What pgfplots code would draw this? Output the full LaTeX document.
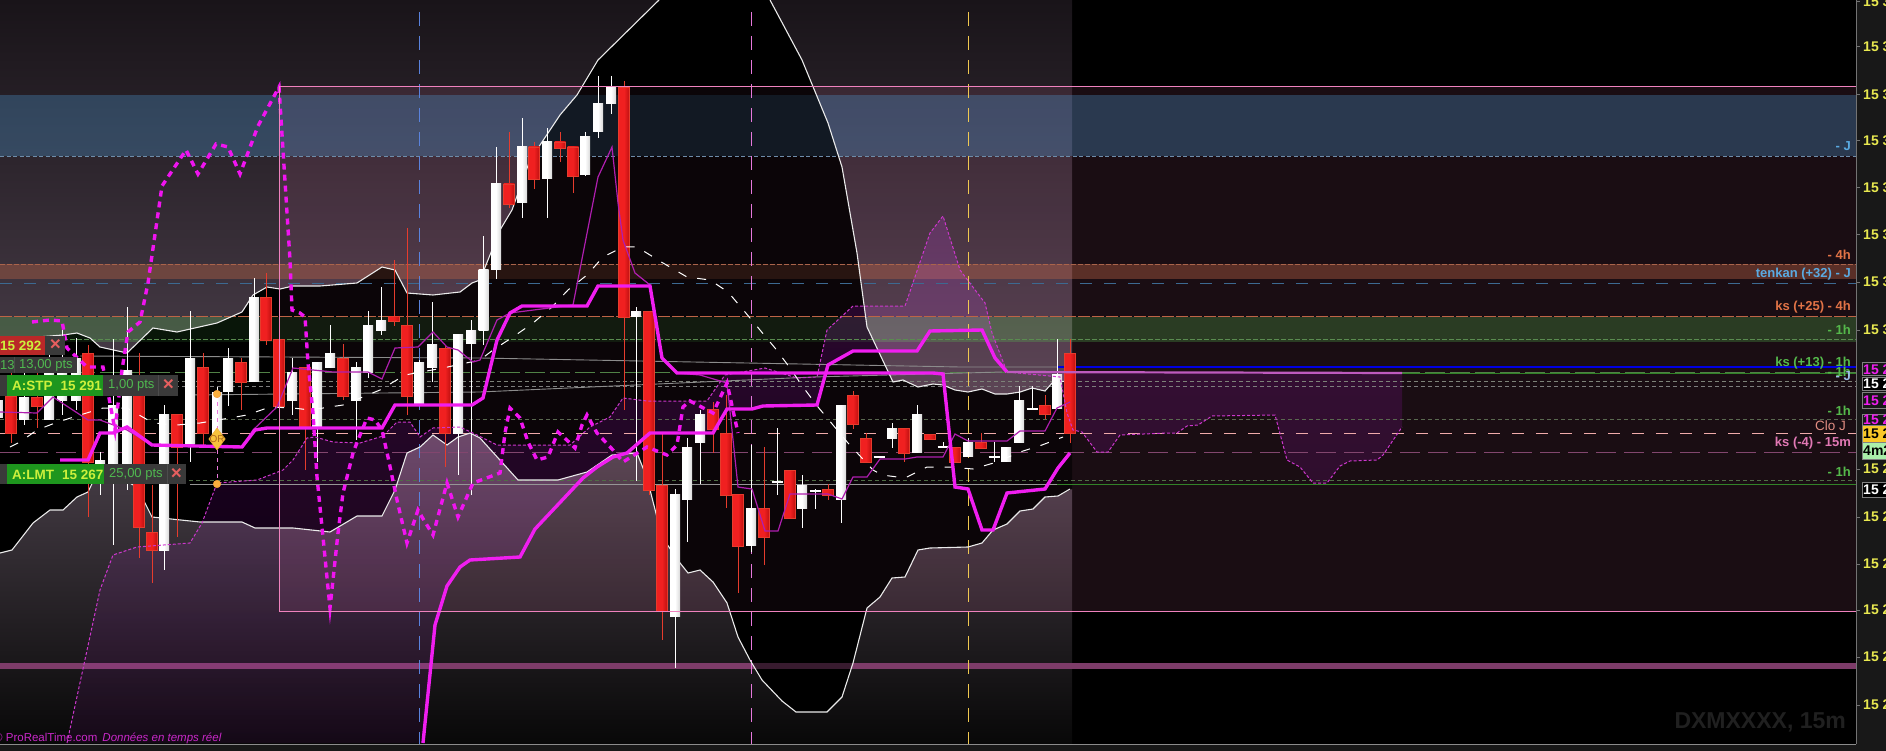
\documentclass[border=0pt]{standalone}
\usepackage{fontspec}
\setmainfont{Liberation Sans}
\usepackage{pgfplots}
\pgfplotsset{compat=1.18}
\definecolor{rbody}{RGB}{240,32,32}
\definecolor{rdark}{RGB}{190,16,16}
\definecolor{redge}{RGB}{230,60,45}
\definecolor{mag}{RGB}{240,30,240}
\definecolor{thinmag}{RGB}{175,30,175}
\definecolor{dashmag}{RGB}{205,55,205}
\definecolor{rectpink}{RGB}{240,130,190}
\definecolor{yel}{RGB}{232,232,80}
\definecolor{lblue}{RGB}{90,170,225}
\definecolor{lor}{RGB}{225,115,70}
\definecolor{lgr}{RGB}{85,185,75}
\definecolor{lpk}{RGB}{225,120,180}
\definecolor{uigreen}{RGB}{30,150,30}
\definecolor{uigray}{RGB}{58,58,58}
\definecolor{uitext}{RGB}{205,240,60}
\definecolor{uipts}{RGB}{80,185,80}
\definecolor{uix}{RGB}{230,95,95}
\definecolor{panel}{RGB}{24,24,24}
\newcommand{\lv}[3]{\addplot[#3] coordinates {(#1,#2)(1856,#2)};}
\newcommand{\cR}[5]{%
 \addplot[redge,line width=1pt] coordinates {(#1,#2)(#1,#5)};
 \addplot[draw=redge,line width=.6pt,shade,left color=rbody,right color=rdark,middle color=rbody] coordinates {(#1-5.5,#3)(#1+5.5,#3)(#1+5.5,#4)(#1-5.5,#4)} -- cycle;}
\newcommand{\cW}[5]{%
 \addplot[white,line width=1pt] coordinates {(#1,#2)(#1,#5)};
 \addplot[draw=none,shade,left color=white,right color=black!15,middle color=white] coordinates {(#1-5,#3)(#1+5,#3)(#1+5,#4)(#1-5,#4)} -- cycle;}
\newcommand{\cD}[4]{%
 \addplot[white,line width=1pt] coordinates {(#1,#2)(#1,#4)};
 \addplot[white,line width=1.2pt] coordinates {(#1-5.5,#3)(#1+5.5,#3)};}
\begin{document}
\begin{tikzpicture}
\path[use as bounding box] (0,0) rectangle (1886pt,751pt);
\clip (0,0) rectangle (1886pt,751pt);
\fill[panel] (0,0) rectangle (1886pt,751pt);
\begin{axis}[
  at={(0pt,7pt)},anchor=south west,
  scale only axis,width=1856pt,height=744pt,
  xmin=0,xmax=1856,ymin=0,ymax=744,y dir=reverse,
  clip mode=individual,
  axis background/.style={fill=black},
  axis x line=none,axis y line*=right,
  axis line style={draw=black!55,line width=1pt},
  ytick={2,47,95,141,188,235,282,330,469,517,564,610,657,705},
  yticklabels={15 3,15 3,\textbf{15 3},15 3,15 3,15 3,15 3,\textbf{15 3},15 2,15 2,\textbf{15 2},15 2,15 2,15 2},
  tick align=outside,major tick length=4pt,
  y tick style={draw=black!55,line width=1pt},
  yticklabel style={text=yel,font=\fontsize{14}{16}\selectfont\bfseries,anchor=west,inner sep=0pt,xshift=3pt},
]
% outer cloud gradients
\addplot[draw=none,top color={rgb,255:red,25;green,20;blue,25},bottom color={rgb,255:red,74;green,62;blue,74}] coordinates {
(0,0)(0,340)(63,335)(77,333)(90,338)(100,347)(127,353)(153,328)(177,332)(217,323)(242,312)(253,295)(267,287)(280,289)(293,286)(320,286)(357,283)(382,267)(395,270)(407,293)(433,295)(460,292)(472,283)(480,280)(490,255)(500,230)(512,210)(530,160)(560,115)(577,95)(598,60)(659,0)(770,0)(802,60)(828,123)(842,167)(857,253)(867,327)(893,382)(903,380)(918,387)(933,384)(943,385)(955,390)(968,392)(982,389)(995,394)(1007,394)(1020,392)(1032,388)(1045,391)(1053,382)(1072,381)(1072,0)} -- cycle;
\addplot[draw=none,top color={rgb,255:red,76;green,66;blue,76},bottom color={rgb,255:red,8;green,8;blue,8}] coordinates {
(0,553)(12,550)(33,523)(50,510)(63,510)(77,497)(88,492)(100,467)(137,487)(152,517)(200,522)(242,522)(255,528)(293,528)(330,532)(357,516)(382,516)(395,490)(407,453)(420,447)(433,435)(447,445)(458,437)(470,433)(480,438)(518,480)(558,480)(587,472)(612,455)(637,453)(647,478)(662,537)(680,563)(688,573)(700,570)(713,582)(727,603)(738,637)(750,660)(762,680)(782,701)(796,712)(827,712)(842,697)(853,663)(867,608)(880,597)(892,578)(905,577)(918,550)(930,548)(968,547)(982,543)(993,530)(1007,524)(1020,511)(1033,509)(1045,497)(1058,496)(1072,489)(1072,744)(0,744)} -- cycle;
% large rectangle wash
\addplot[draw=none,fill={rgb,255:red,255;green,130;blue,190},fill opacity=.1] coordinates {(279,87)(1856,87)(1856,611)(279,611)} -- cycle;
% bands
\addplot[draw=none,fill={rgb,255:red,79;green,160;blue,220},fill opacity=.3] coordinates {(0,95)(1856,95)(1856,156)(0,156)} -- cycle;
\addplot[draw=none,fill={rgb,255:red,186;green,99;blue,70},fill opacity=.4] coordinates {(0,264)(1856,264)(1856,279)(0,279)} -- cycle;
\addplot[draw=none,fill={rgb,255:red,90;green,202;blue,84},fill opacity=.25] coordinates {(0,317)(1856,317)(1856,342)(0,342)} -- cycle;
\addplot[draw=none,fill={rgb,255:red,125;green,60;blue,105}] coordinates {(0,663)(1856,663)(1856,669)(0,669)} -- cycle;
% channel darkening
\addplot[draw=none,fill=black,fill opacity=.55] coordinates {
(0,340)(63,335)(77,333)(90,338)(100,347)(127,353)(153,328)(177,332)(217,323)(242,312)(253,295)(267,287)(280,289)(293,286)(320,286)(357,283)(382,267)(395,270)(407,293)(433,295)(460,292)(472,283)(480,280)(490,255)(500,230)(512,210)(530,160)(560,115)(577,95)(598,60)(659,0)(770,0)(802,60)(828,123)(842,167)(857,253)(867,327)(893,382)(903,380)(918,387)(933,384)(943,385)(955,390)(968,392)(982,389)(995,394)(1007,394)(1020,392)(1032,388)(1045,391)(1053,382)(1072,381)
(1072,489)(1058,496)(1045,497)(1033,509)(1020,511)(1007,524)(993,530)(982,543)(968,547)(930,548)(918,550)(905,577)(892,578)(880,597)(867,608)(853,663)(842,697)(827,712)(796,712)(782,701)(762,680)(750,660)(738,637)(727,603)(713,582)(700,570)(688,573)(680,563)(662,537)(647,478)(637,453)(612,455)(587,472)(558,480)(518,480)(480,438)(470,433)(458,437)(447,445)(433,435)(420,447)(407,453)(395,490)(382,516)(357,516)(330,532)(293,528)(255,528)(242,522)(200,522)(152,517)(137,487)(100,467)(88,492)(77,497)(63,510)(50,510)(33,523)(12,550)(0,553)} -- cycle;
% purple cloud between thick line and thin dashed curve
\addplot[draw=none,blend mode=screen,top color={rgb,255:red,34;green,2;blue,42},bottom color={rgb,255:red,12;green,0;blue,14}] coordinates {
(67,743)(100,590)(113,555)(137,547)(190,543)(202,523)(217,483)(257,480)(283,470)(293,460)(307,438)(315,437)(333,442)(360,443)(383,436)(397,422)(410,422)(420,437)(433,428)(460,427)(477,435)(497,445)(570,445)(590,427)(610,417)(623,398)(647,401)(707,401)(725,375)(765,368)(797,378)(817,377)(827,330)(853,306)(905,306)(930,233)(943,216)(960,270)(985,303)(992,333)(1007,372)
(1060,377)(1067,413)(1073,430)(1082,432)(1097,452)(1108,452)(1120,435)(1167,433)(1177,433)(1187,426)(1198,425)(1212,416)(1275,415)(1287,460)(1300,467)(1313,483)(1327,483)(1340,466)(1350,461)(1377,460)(1383,455)(1402,427)(1402,373)
(1007,372)(995,358)(982,330)(930,330)(917,351)(853,351)(828,365)(817,405)(763,406)(752,409)(727,409)(713,433)(650,433)(627,453)(613,457)(597,467)(583,478)(535,529)(520,557)(469,560)(447,586)(435,625)(423,743)} -- cycle;
% horizontal levels
\lv{0}{156}{draw={rgb,255:red,110;green,140;blue,170},line width=.8pt,dash pattern=on 4pt off 2.5pt}
\lv{0}{264.5}{draw={rgb,255:red,170;green,100;blue,75},line width=.8pt,dash pattern=on 5pt off 2pt}
\lv{0}{283}{draw={rgb,255:red,60;green,105;blue,145},line width=.9pt,dash pattern=on 12pt off 12pt}
\lv{0}{316.5}{draw={rgb,255:red,190;green,100;blue,70},line width=.9pt,dash pattern=on 12pt off 2pt}
\lv{0}{339}{draw={rgb,255:red,90;green,140;blue,80},line width=.8pt,dash pattern=on 5pt off 2pt}
\lv{0}{372.5}{draw={rgb,255:red,80;green,130;blue,70},line width=.9pt,dash pattern=on 20pt off 5pt}
\lv{0}{381}{draw={rgb,255:red,125;green,130;blue,120},line width=.8pt,dash pattern=on 4pt off 3pt}
\lv{0}{386}{draw={rgb,255:red,125;green,125;blue,125},line width=.8pt,dash pattern=on 4pt off 3pt}
\lv{0}{419}{draw={rgb,255:red,90;green,105;blue,80},line width=.8pt,dash pattern=on 4pt off 3pt}
\lv{0}{433}{draw={rgb,255:red,240;green,170;blue,170},line width=.9pt,dash pattern=on 12pt off 12pt}
\lv{0}{452.7}{draw={rgb,255:red,130;green,70;blue,110},line width=.9pt,dash pattern=on 20pt off 8pt}
\lv{0}{480}{draw={rgb,255:red,80;green,110;blue,70},line width=.8pt,dash pattern=on 4pt off 3pt}
\addplot[draw={rgb,255:red,150;green,150;blue,150},line width=.9pt] coordinates {(190,484)(1057,484)};
\addplot[draw={rgb,255:red,50;green,130;blue,40},line width=1pt] coordinates {(1057,484)(1856,484)};
\addplot[draw={rgb,255:red,140;green,140;blue,140},line width=.9pt] coordinates {(80,356)(480,358)(960,367)(1057,367)};
\addplot[draw={rgb,255:red,140;green,140;blue,140},line width=.9pt] coordinates {(190,395)(480,392)(813,377)(1002,372)};
\addplot[draw={rgb,255:red,50;green,130;blue,40},line width=1pt] coordinates {(1402,373)(1856,373)};
\addplot[draw={rgb,255:red,0;green,0;blue,225},line width=2.4pt] coordinates {(1057,367)(1856,367)};
% vertical dashes
\addplot[draw={rgb,255:red,90;green,130;blue,220},line width=1pt,dash pattern=on 14pt off 10pt] coordinates {(419.5,12)(419.5,744)};
\addplot[draw={rgb,255:red,230;green,120;blue,220},line width=1pt,dash pattern=on 14pt off 10pt] coordinates {(751.5,12)(751.5,744)};
\addplot[draw={rgb,255:red,240;green,200;blue,80},line width=1pt,dash pattern=on 14pt off 10pt] coordinates {(968.5,12)(968.5,744)};
% cloud white lines
\addplot[draw=white!92!black,line width=1.1pt] coordinates {(0,340)(63,335)(77,333)(90,338)(100,347)(127,353)(153,328)(177,332)(217,323)(242,312)(253,295)(267,287)(280,289)(293,286)(320,286)(357,283)(382,267)(395,270)(407,293)(433,295)(460,292)(472,283)(480,280)(490,255)(500,230)(512,210)(530,160)(560,115)(577,95)(598,60)(659,0)};
\addplot[draw=white!92!black,line width=1.1pt] coordinates {(770,0)(802,60)(828,123)(842,167)(857,253)(867,327)(893,382)(903,380)(918,387)(933,384)(943,385)(955,390)(968,392)(982,389)(995,394)(1007,394)(1020,392)(1032,388)(1045,391)(1053,382)(1070,381)};
\addplot[draw=white!92!black,line width=1.1pt] coordinates {(0,553)(12,550)(33,523)(50,510)(63,510)(77,497)(88,492)(100,467)(137,487)(152,517)(200,522)(242,522)(255,528)(293,528)(330,532)(357,516)(382,516)(395,490)(407,453)(420,447)(433,435)(447,445)(458,437)(470,433)(480,438)(518,480)(558,480)(587,472)(612,455)(637,453)(647,478)(662,537)(680,563)(688,573)(700,570)(713,582)(727,603)(738,637)(750,660)(762,680)(782,701)(796,712)(827,712)(842,697)(853,663)(867,608)(880,597)(892,578)(905,577)(918,550)(930,548)(968,547)(982,543)(993,530)(1007,524)(1020,511)(1033,509)(1045,497)(1058,496)(1070,489)};
% candles
\cW{-2}{385}{400}{417}{430}
\cR{11}{360}{396}{433}{443}
\cW{24}{360}{397}{419}{425}
\cR{37}{360}{397}{406}{428}
\cW{49}{340}{360}{419}{420}
\cW{62}{325}{360}{400}{415}
\cW{76}{338}{358}{400}{410}
\cR{88}{345}{353}{462}{517}
\cW{100}{452}{460}{470}{495}
\cW{113}{339}{405}{463}{545}
\cW{127}{307}{370}{463}{490}
\cR{139}{353}{395}{527}{558}
\cR{152}{485}{532}{550}{583}
\cW{164}{405}{414}{550}{570}
\cR{177}{414}{414}{447}{537}
\cW{190}{311}{358}{443}{462}
\cR{203}{353}{367}{433}{445}
\cW{217}{387}{392}{440}{445}
\cW{228}{348}{358}{391}{406}
\cR{241}{358}{362}{382}{410}
\cW{254}{278}{297}{381}{382}
\cR{266}{273}{297}{340}{345}
\cR{279}{340}{339}{406}{440}
\cW{292}{358}{372}{400}{415}
\cR{305}{367}{367}{427}{470}
\cW{317}{362}{362}{427}{462}
\cW{330}{325}{353}{367}{368}
\cR{343}{344}{358}{396}{400}
\cW{356}{362}{367}{400}{440}
\cW{368}{311}{325}{372}{378}
\cW{381}{287}{320}{330}{335}
\cR{394}{260}{316}{321}{326}
\cR{407}{228}{325}{396}{415}
\cW{419}{360}{362}{404}{404}
\cW{432}{302}{344}{367}{382}
\cR{445}{345}{348}{433}{467}
\cW{458}{350}{334}{433}{475}
\cW{471}{320}{330}{343}{495}
\cW{483.5}{236}{269}{330}{345}
\cW{496}{147}{184}{269}{279}
\cR{509}{132}{184}{204}{208}
\cW{522}{118}{147}{203}{218}
\cR{534}{142}{147}{179}{189}
\cW{547}{128}{142}{179}{218}
\cR{560}{132}{142}{148}{162}
\cR{573}{147}{147}{176}{193}
\cW{585}{132}{137}{175}{176}
\cW{598}{76}{104}{132}{138}
\cW{611}{76}{87}{104}{114}
\cR{624}{81}{87}{317}{410}
\cW{636}{307}{311}{316}{481}
\cR{649}{311}{311}{490}{495}
\cR{662}{433}{485}{611}{640}
\cW{675}{489}{494}{616}{668}
\cW{687}{438}{447}{499}{542}
\cW{700}{410}{414}{442}{484}
\cR{713}{402}{409}{429}{453}
\cR{726}{395}{433}{495}{508}
\cR{738}{494}{494}{546}{593}
\cW{751}{445}{508}{545}{552}
\cR{764}{447}{508}{537}{565}
\cD{777}{428}{482}{495}
\cR{790}{470}{470}{518}{518}
\cW{802}{475}{485}{508}{528}
\cD{815}{489}{491}{509}
\cR{828}{484}{489}{495}{500}
\cW{841}{405}{405}{499}{523}
\cR{853}{391}{395}{424}{429}
\cR{866}{433}{438}{462}{462}
\cD{879}{457}{457}{457}
\cW{892}{423}{428}{438}{448}
\cR{904}{428}{428}{453}{462}
\cW{917}{405}{414}{452}{453}
\cR{930}{434}{434}{439}{439}
\cD{943}{442}{447}{448}
\cR{955}{447}{447}{462}{462}
\cW{968}{438}{442}{456}{457}
\cR{981}{433}{442}{448}{448}
\cD{994}{442}{457}{462}
\cW{1006}{447}{447}{461}{462}
\cW{1019}{386}{400}{442}{443}
\cD{1032}{386}{409}{409}
\cR{1045}{395}{405}{414}{419}
\cW{1057}{339}{374}{408}{408}
\cR{1070}{339}{353}{433}{443}
% white dashed line
\addplot[draw=white,line width=1pt,dash pattern=on 9pt off 11pt] coordinates {(10,447)(20,442)(37,430)(55,423)(80,415)(103,408)(127,408)(153,423)(177,425)(200,423)(230,418)(247,415)(270,407)(293,408)(310,410)(343,405)(380,390)(405,375)(443,368)(480,360)(493,350)(513,337)(533,323)(552,307)(568,290)(587,275)(603,257)(623,247)(637,247)(663,263)(687,277)(710,280)(728,292)(745,312)(760,330)(775,348)(790,368)(803,387)(818,407)(833,425)(848,443)(873,470)(882,475)(905,478)(927,467)(950,467)(973,469)(997,462)(1020,452)(1042,445)(1063,437)};
% thin magenta line
\addplot[draw=thinmag,line width=1.2pt] coordinates {(0,412)(37,413)(53,397)(88,420)(100,420)(127,430)(152,445)(242,447)(253,430)(277,407)(293,368)(333,372)(368,372)(382,379)(395,348)(418,347)(433,332)(447,347)(458,350)(473,362)(480,360)(497,320)(510,313)(573,305)(598,177)(612,147)(618,203)(623,240)(635,273)(650,285)(662,358)(677,373)(700,375)(727,383)(738,487)(752,489)(765,531)(778,531)(790,494)(828,494)(842,499)(853,477)(867,477)(880,459)(905,459)(917,457)(943,457)(955,434)(968,441)(1007,441)(1020,431)(1045,431)(1057,408)(1070,402)};
% thin dashed curve
\addplot[draw=dashmag,line width=1pt,dash pattern=on 3pt off 2pt] coordinates {(67,743)(100,590)(113,555)(137,547)(190,543)(202,523)(217,483)(257,480)(283,470)(293,460)(307,438)(315,437)(333,442)(360,443)(383,436)(397,422)(410,422)(420,437)(433,428)(460,427)(477,435)(497,445)(570,445)(590,427)(610,417)(623,398)(647,401)(707,401)(725,375)(765,368)(797,378)(817,377)(827,330)(853,306)(905,306)(930,233)(943,216)(960,270)(985,303)(992,333)(1007,372)(1060,377)(1067,413)(1073,430)(1082,432)(1097,452)(1108,452)(1120,435)(1167,433)(1177,433)(1187,426)(1198,425)(1212,416)(1275,415)(1287,460)(1300,467)(1313,483)(1327,483)(1340,466)(1350,461)(1377,460)(1383,455)(1402,427)};
% thick magenta dashed line
\addplot[draw={rgb,255:red,240;green,20;blue,240},line width=3.4pt,dash pattern=on 6pt off 5pt] coordinates {(32,322)(50,320)(62,321)(67,348)(87,367)(103,367)(110,403)(115,430)(122,370)(128,332)(140,322)(148,283)(162,186)(186,150)(198,174)(216,144)(228,147)(240,174)(258,126)(279,87)(290,260)(292,310)(300,313)(305,317)(308,363)(313,413)(317,477)(322,527)(330,608)(338,533)(343,493)(353,453)(358,440)(367,418)(375,420)(382,430)(388,457)(397,500)(407,543)(418,510)(422,517)(433,535)(447,483)(458,517)(473,483)(500,473)(505,433)(510,408)(520,418)(528,442)(537,460)(548,457)(558,432)(570,443)(575,448)(582,425)(587,415)(597,433)(613,450)(623,462)(647,447)(667,455)(677,445)(683,407)(690,401)(713,413)(727,383)(738,433)};
% thick magenta lines
\addplot[draw=mag,line width=3.4pt] coordinates {(60,460)(88,460)(100,433)(113,433)(127,427)(152,445)(242,447)(255,430)(267,428)(382,428)(395,405)(472,405)(483,398)(497,340)(510,313)(522,306)(587,306)(598,286)(650,286)(662,358)(677,373)(933,373)(943,374)(955,487)(968,489)(982,530)(993,530)(1007,493)(1045,489)(1058,468)(1070,453)};
\addplot[draw=mag,line width=3.4pt] coordinates {(423,743)(435,625)(447,586)(460,567)(470,560)(520,557)(535,529)(583,478)(597,467)(613,457)(627,453)(650,433)(713,433)(727,409)(752,409)(763,406)(817,405)(828,365)(853,351)(917,351)(930,331)(982,330)(995,358)(1007,372)};
\addplot[draw={rgb,255:red,190;green,90;blue,190},line width=2.2pt] coordinates {(1007,372)(1402,373)};
% rectangle outline
\addplot[draw=rectpink,line width=1pt] coordinates {(1856,87)(279,87)(279,611)(1856,611)};
% OR marker
\addplot[draw={rgb,255:red,235;green,120;blue,220},line width=1pt,dash pattern=on 4pt off 4pt] coordinates {(217,394)(217,484)};
\addplot[only marks,mark=*,mark size=3.8pt,mark options={draw={rgb,255:red,245;green,160;blue,60},fill={rgb,255:red,250;green,175;blue,60}}] coordinates {(217,394)(217,484)};
\addplot[only marks,mark=diamond*,mark size=11pt,mark options={draw={rgb,255:red,240;green,170;blue,50},fill={rgb,255:red,248;green,195;blue,60}}] coordinates {(217,439)};
\node[text={rgb,255:red,175;green,105;blue,30},font=\fontsize{10}{11}\selectfont,inner sep=0pt] at (axis cs:217,439.5) {OR};
% order labels
\fill[fill={rgb,255:red,185;green,40;blue,40}] (axis cs:0,336) rectangle (axis cs:45,355);
\fill[uigray] (axis cs:45,336) rectangle (axis cs:65,355);
\node[anchor=west,inner sep=0pt,text=uitext,font=\fontsize{13.5}{15}\selectfont\bfseries] at (axis cs:0,345.5) {15 292};
\node[inner sep=0pt,text=uix,font=\fontsize{19}{20}\selectfont\bfseries] at (axis cs:55.5,345) {×};
\fill[uigray] (axis cs:0,357) rectangle (axis cs:77,373);
\draw[black!70] (axis cs:14,357) -- (axis cs:14,373);
\node[anchor=west,inner sep=0pt,text=uipts,font=\fontsize{13}{15}\selectfont] at (axis cs:0,365.5) {13};
\node[anchor=west,inner sep=0pt,text=uipts,font=\fontsize{13}{15}\selectfont] at (axis cs:19,365.5) {13,00 pts};
\fill[uigray] (axis cs:0,375) rectangle (axis cs:178,396);
\fill[uigreen] (axis cs:7,375) rectangle (axis cs:103,396);
\draw[black!70] (axis cs:158,375) -- (axis cs:158,396);
\node[anchor=west,inner sep=0pt,text=uitext,font=\fontsize{13.5}{15}\selectfont\bfseries] at (axis cs:12,385.5) {A:STP\hspace{8pt}15 291};
\node[anchor=west,inner sep=0pt,text=uipts,font=\fontsize{13}{15}\selectfont] at (axis cs:108,385.5) {1,00 pts};
\node[inner sep=0pt,text=uix,font=\fontsize{19}{20}\selectfont\bfseries] at (axis cs:168.5,385) {×};
\fill[uigray] (axis cs:0,464) rectangle (axis cs:186,484);
\fill[uigreen] (axis cs:7,464) rectangle (axis cs:104,484);
\draw[black!70] (axis cs:167,464) -- (axis cs:167,484);
\node[anchor=west,inner sep=0pt,text=uitext,font=\fontsize{13.5}{15}\selectfont\bfseries] at (axis cs:12,474.5) {A:LMT\hspace{8pt}15 267};
\node[anchor=west,inner sep=0pt,text=uipts,font=\fontsize{13}{15}\selectfont] at (axis cs:109,474.5) {25,00 pts};
\node[inner sep=0pt,text=uix,font=\fontsize{19}{20}\selectfont\bfseries] at (axis cs:176.5,474) {×};
% right-hand level labels
\foreach \yy/\cc/\tt in {146/lblue/- J,255/lor/- 4h,274/lblue/tenkan (+32) - J,307/lor/ks (+25) - 4h,330/lgr/- 1h,363/lgr/ks (+13) - 1h,372/lgr/- 1h,411/lgr/- 1h,443/lpk/ks (-4) - 15m,472/lgr/- 1h}{
 \edef\tmp{\noexpand\node[anchor=east,inner sep=0pt,text=\cc,font=\noexpand\fontsize{13}{15}\noexpand\selectfont\noexpand\bfseries] at (axis cs:1851,\yy) {\tt};}\tmp}
\node[anchor=east,inner sep=0pt,text={rgb,255:red,155;green,190;blue,230},font=\fontsize{13}{15}\selectfont\bfseries] at (axis cs:1851,376) {- J};
\node[anchor=east,inner sep=0pt,text={rgb,255:red,225;green,140;blue,130},font=\fontsize{13.5}{15}\selectfont] at (axis cs:1846,426) {Clo J};
\node[anchor=east,inner sep=0pt,text={rgb,255:red,32;green,32;blue,32},font=\fontsize{23}{25}\selectfont\bfseries] at (axis cs:1846,722) {DXMXXXX, 15m};
\node[anchor=west,inner sep=0pt,text={rgb,255:red,200;green,40;blue,200},font=\fontsize{11.5}{13}\selectfont] at (axis cs:-6,738) {© ProRealTime.com\hspace{5pt}\textit{Données en temps réel}};
% bottom rule
\addplot[draw=black!45,line width=1pt] coordinates {(0,744)(1856,744)};
% price boxes in the scale
\newcommand{\pbox}[5]{\draw[draw=black!50,fill=#3] (axis cs:1862,#1) rectangle (axis cs:1890,#2); \node[anchor=west,inner sep=0pt,text=#4,font=\fontsize{14}{16}\selectfont\bfseries] at (axis cs:1863,{(#1+#2)/2+.5}) {#5};}
\pbox{362}{375.5}{panel}{mag}{15 2}
\pbox{377}{390}{black}{white}{15 2}
\pbox{392}{408}{panel}{mag}{15 2}
\pbox{414}{425}{panel}{mag}{15 2}
\pbox{425}{442}{{rgb,255:red,250;green,200;blue,40}}{black}{15 2}
\pbox{442}{459}{{rgb,255:red,170;green,240;blue,170}}{black}{4m2}
\pbox{482}{497}{black}{white}{15 2}
\end{axis}
\end{tikzpicture}
\end{document}
